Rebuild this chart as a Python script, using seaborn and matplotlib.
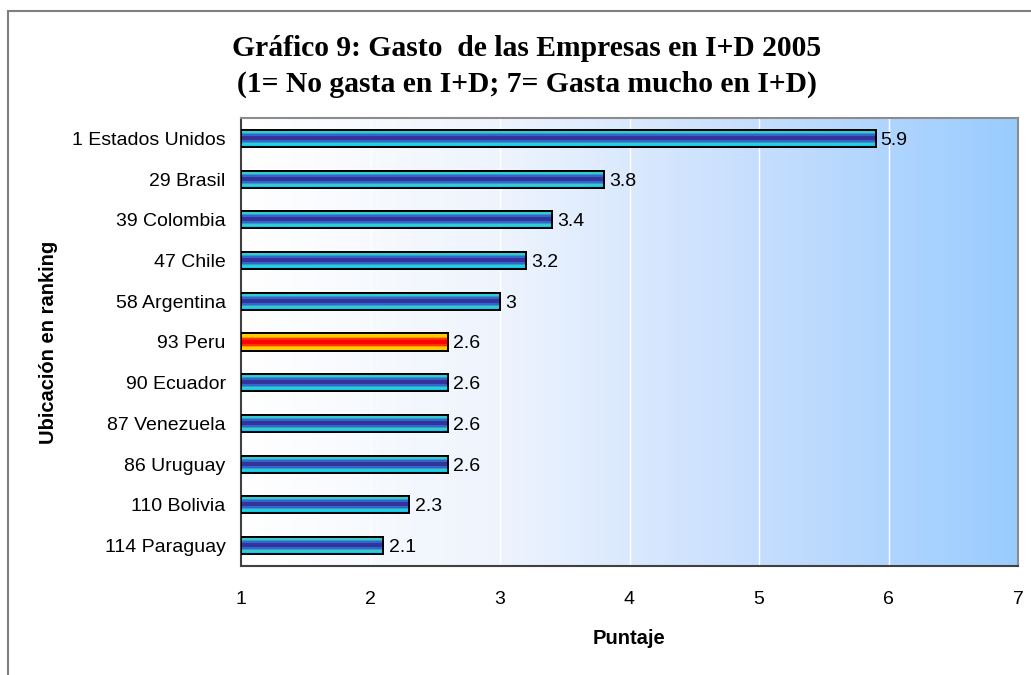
import numpy as np
import pandas as pd
import matplotlib
matplotlib.use("Agg")
import matplotlib.pyplot as plt
from matplotlib.colors import LinearSegmentedColormap, ListedColormap
from matplotlib.patches import Rectangle
import seaborn as sns

# Ranking position + country, and the score of each one
labels = ["1 Estados Unidos", "29 Brasil", "39 Colombia", "47 Chile", "58 Argentina",
          "93 Peru", "90 Ecuador", "87 Venezuela", "86 Uruguay", "110 Bolivia", "114 Paraguay"]
scores = [5.9, 3.8, 3.4, 3.2, 3.0, 2.6, 2.6, 2.6, 2.6, 2.3, 2.1]
highlight = "93 Peru"

title_lines = ["Gráfico 9: Gasto  de las Empresas en I+D 2005",
               "(1= No gasta en I+D; 7= Gasta mucho en I+D)"]
x_ticks = [1, 2, 3, 4, 5, 6, 7]

df = pd.DataFrame({"pais": labels, "puntaje": scores})

sns.set_style("white")
plt.rcParams["font.family"] = ["Liberation Sans", "DejaVu Sans"]
plt.rcParams["text.color"] = "black"
plt.rcParams["axes.labelcolor"] = "black"
plt.rcParams["xtick.color"] = "black"
plt.rcParams["ytick.color"] = "black"

FS = 14

fig = plt.figure(figsize=(10.31, 6.75), dpi=100)
ax = fig.add_axes([241 / 1031, 1 - 566 / 675, (1018 - 241) / 1031, (566 - 118) / 675])

base = 1.0
sns.barplot(data=df, y="pais", x=[s - base for s in scores], orient="h", ax=ax,
            width=0.42, color="#3399cc", edgecolor="black", linewidth=1.4,
            left=base, zorder=3)

ax.set_xlim(1, 7)
ax.set_ylim(len(labels) - 0.5, -0.5)

# Soft white-to-blue background across the plot area
bg = LinearSegmentedColormap.from_list("bg", ["#ffffff", "#eef4fd", "#c6defd", "#99ccff"])
ax.imshow(np.linspace(0, 1, 256).reshape(1, -1), cmap=bg, aspect="auto",
          extent=[0, 1, 0, 1], transform=ax.transAxes, zorder=0)

for x in x_ticks[1:-1]:
    ax.axvline(x, color="white", lw=1.0, zorder=1)

# Tube-like stripes inside each bar
blue_stripes = ListedColormap(["#00ccff", "#33cccc", "#3399cc", "#3366cc", "#333399",
                               "#333399", "#3366cc", "#3399cc", "#33cccc", "#00ccff"])
red_stripes = ListedColormap(["#ffcc00", "#ffcc00", "#ff9900", "#ff3300", "#ff0000",
                              "#ff0000", "#ff3300", "#ff9900", "#ffcc00", "#ffcc00"])
grad = np.linspace(0, 1, 10).reshape(-1, 1)
for patch, lab in zip(ax.patches, labels):
    x0, y0 = patch.get_x(), patch.get_y()
    w, h = patch.get_width(), patch.get_height()
    cmap = red_stripes if lab == highlight else blue_stripes
    im = ax.imshow(grad, cmap=cmap, aspect="auto", extent=[x0, x0 + w, y0 + h, y0],
                   interpolation="nearest", zorder=3.5)
    im.set_clip_path(patch)
    edge = Rectangle((x0, y0), w, h, fill=False, edgecolor="black", lw=1.4, zorder=4)
    ax.add_patch(edge)

ax.set_xlim(1, 7)
ax.set_ylim(len(labels) - 0.5, -0.5)

for patch, val in zip(ax.patches[:len(scores)], scores):
    txt = f"{val:g}"
    ax.text(patch.get_x() + patch.get_width() + 0.04, patch.get_y() + patch.get_height() / 2,
            txt, va="center_baseline", ha="left", fontsize=FS, color="black", zorder=5)

ax.set_xticks(x_ticks)
ax.set_xticklabels([str(t) for t in x_ticks], fontsize=FS)
ax.set_yticks(range(len(labels)))
ax.set_yticklabels(labels, fontsize=FS)
ax.tick_params(axis="y", length=0, pad=11)
ax.tick_params(axis="x", length=5, width=1, color="#333333", direction="out", pad=13)
ax.set_yticks(np.arange(-0.5, len(labels) + 0.5, 1.0), minor=True)
ax.tick_params(axis="y", which="minor", length=5, width=1, color="#333333", direction="out")

ax.set_xlabel("Puntaje", fontsize=14.5, fontweight="bold")
ax.xaxis.set_label_coords(0.5, -0.14)
ax.set_ylabel("Ubicación en ranking", fontsize=14.5, fontweight="bold")
ax.yaxis.set_label_coords(-0.236, 0.5)

for side in ["left", "bottom"]:
    ax.spines[side].set_color("#404040")
    ax.spines[side].set_linewidth(1.5)
for side in ["top", "right"]:
    ax.spines[side].set_color("#8c8c8c")
    ax.spines[side].set_linewidth(1.5)
    ax.spines[side].set_visible(True)

fig.text(0.511, 1 - 48 / 675, title_lines[0], ha="center", va="center",
         fontsize=21.3, fontweight="bold", family="Liberation Serif")
fig.text(0.511, 1 - 84 / 675, title_lines[1], ha="center", va="center",
         fontsize=21.3, fontweight="bold", family="Liberation Serif")

# Outer chart frame
fig.patches.append(Rectangle((8 / 1031, -0.05), 1.2, 1 - 11 / 675 + 0.05,
                             transform=fig.transFigure, fill=False,
                             edgecolor="#7f7f7f", lw=1.5))

fig.savefig("out.png", dpi=100)
